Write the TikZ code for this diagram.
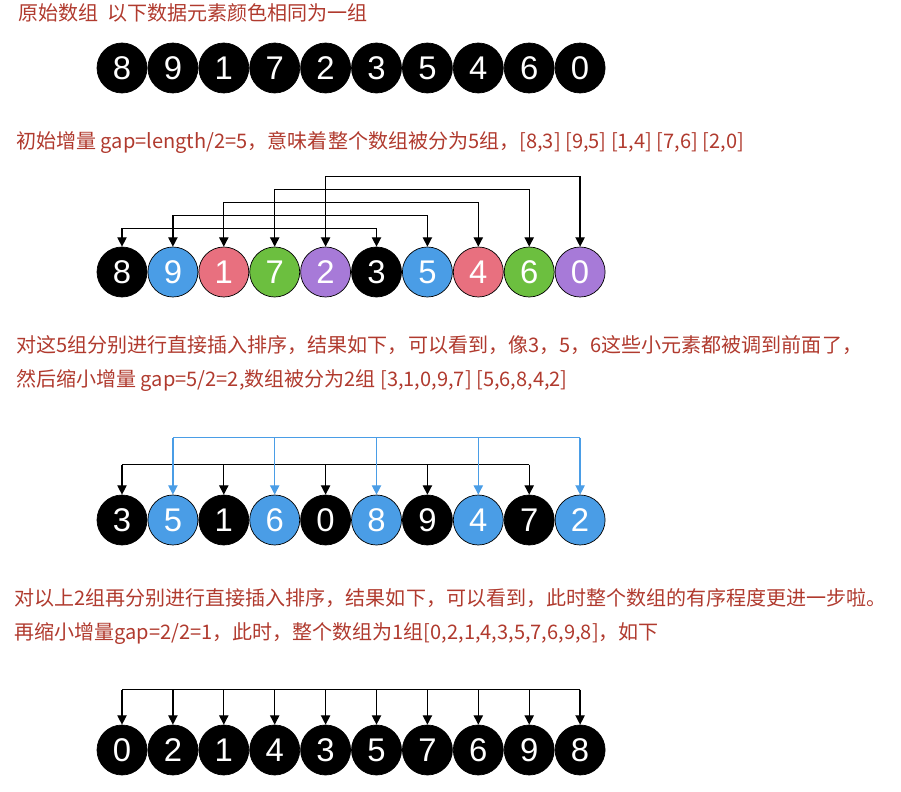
\documentclass[tikz,border=0pt]{standalone}
\usepackage{fontspec}
\setmainfont{Liberation Sans}
\newfontfamily\cjk{Noto Sans CJK SC}
\usetikzlibrary{positioning,calc,arrows.meta}
\definecolor{txtred}{HTML}{B03A2E}
\definecolor{cblue}{HTML}{4A9DE6}
\definecolor{cpink}{HTML}{E8707F}
\definecolor{cgreen}{HTML}{6CBF3F}
\definecolor{cpurple}{HTML}{A77AD8}
\tikzset{
  ball/.style={circle,draw=black,line width=0.6pt,minimum size=1.5cm,inner sep=0pt,
    text=white,font=\fontsize{28}{28}\selectfont},
  note/.style={anchor=west,inner sep=0pt,text=txtred,font=\cjk\fontsize{17.1}{20}\selectfont},
  arr/.style={line width=1.1pt,-{Triangle[length=8pt,width=8pt]}},
  barr/.style={line width=1.1pt,{Triangle[length=8pt,width=8pt]}-{Triangle[length=8pt,width=8pt]}}
}
\begin{document}
\begin{tikzpicture}[x=0.03cm,y=-0.03cm]
\useasboundingbox (0,0) rectangle (901,792);
% Texts
\node[note] (t1) at (18,13) {原始数组\ \ 以下数据元素颜色相同为一组};
\node[note] (t2) at (16,143) {初始增量 gap=length/2=5，意味着整个数组被分为5组，[8,3] [9,5] [1,4] [7,6] [2,0]};
\node[note] (t3) at (16,345) {对这5组分别进行直接插入排序，结果如下，可以看到，像3，5，6这些小元素都被调到前面了，};
\node[note] (t4) at (16,381) {然后缩小增量 gap=5/2=2,数组被分为2组 [3,1,0,9,7] [5,6,8,4,2]};
\node[note] (t5) at (14,598) {对以上2组再分别进行直接插入排序，结果如下，可以看到，此时整个数组的有序程度更进一步啦。};
\node[note] (t6) at (14,634) {再缩小增量gap=2/2=1，此时，整个数组为1组[0,2,1,4,3,5,7,6,9,8]，如下};
% Row 1
\foreach \v [count=\i from 0] in {8,9,1,7,2,3,5,4,6,0}
  \node[ball,fill=black] (r1-\i) at (122+50.9*\i,68) {\v};
% Row 2
\foreach \v/\c [count=\i from 0] in {8/black,9/cblue,1/cpink,7/cgreen,2/cpurple,3/black,5/cblue,4/cpink,6/cgreen,0/cpurple}
  \node[ball,fill=\c] (r2-\i) at (122+50.9*\i,272) {\v};
\foreach \i/\h in {0/18,1/31,2/44,3/57,4/70}{
  \pgfmathtruncatemacro\j{\i+5}
  \draw[barr] (r2-\i.north) -- ++(0,-\h) -| (r2-\j.north);
}
% Row 3
\foreach \v/\c [count=\i from 0] in {3/black,5/cblue,1/black,6/cblue,0/black,8/cblue,9/black,4/cblue,7/black,2/cblue}
  \node[ball,fill=\c] (r3-\i) at (122+50.9*\i,520) {\v};
\draw[line width=1.1pt] ($(r3-0.north)+(0,-30)$) -- ($(r3-8.north)+(0,-30)$);
\foreach \i in {0,2,4,6,8}
  \draw[arr] ($(r3-\i.north)+(0,-30)$) -- (r3-\i.north);
\draw[line width=1.1pt,cblue] ($(r3-1.north)+(0,-57)$) -- ($(r3-9.north)+(0,-57)$);
\foreach \i in {1,3,5,7,9}
  \draw[arr,cblue] ($(r3-\i.north)+(0,-57)$) -- (r3-\i.north);
% Row 4
\foreach \v [count=\i from 0] in {0,2,1,4,3,5,7,6,9,8}
  \node[ball,fill=black] (r4-\i) at (122+50.9*\i,750) {\v};
\draw[line width=1.1pt] ($(r4-0.north)+(0,-35)$) -- ($(r4-9.north)+(0,-35)$);
\foreach \i in {0,...,9}
  \draw[arr] ($(r4-\i.north)+(0,-35)$) -- (r4-\i.north);
\end{tikzpicture}
\end{document}
